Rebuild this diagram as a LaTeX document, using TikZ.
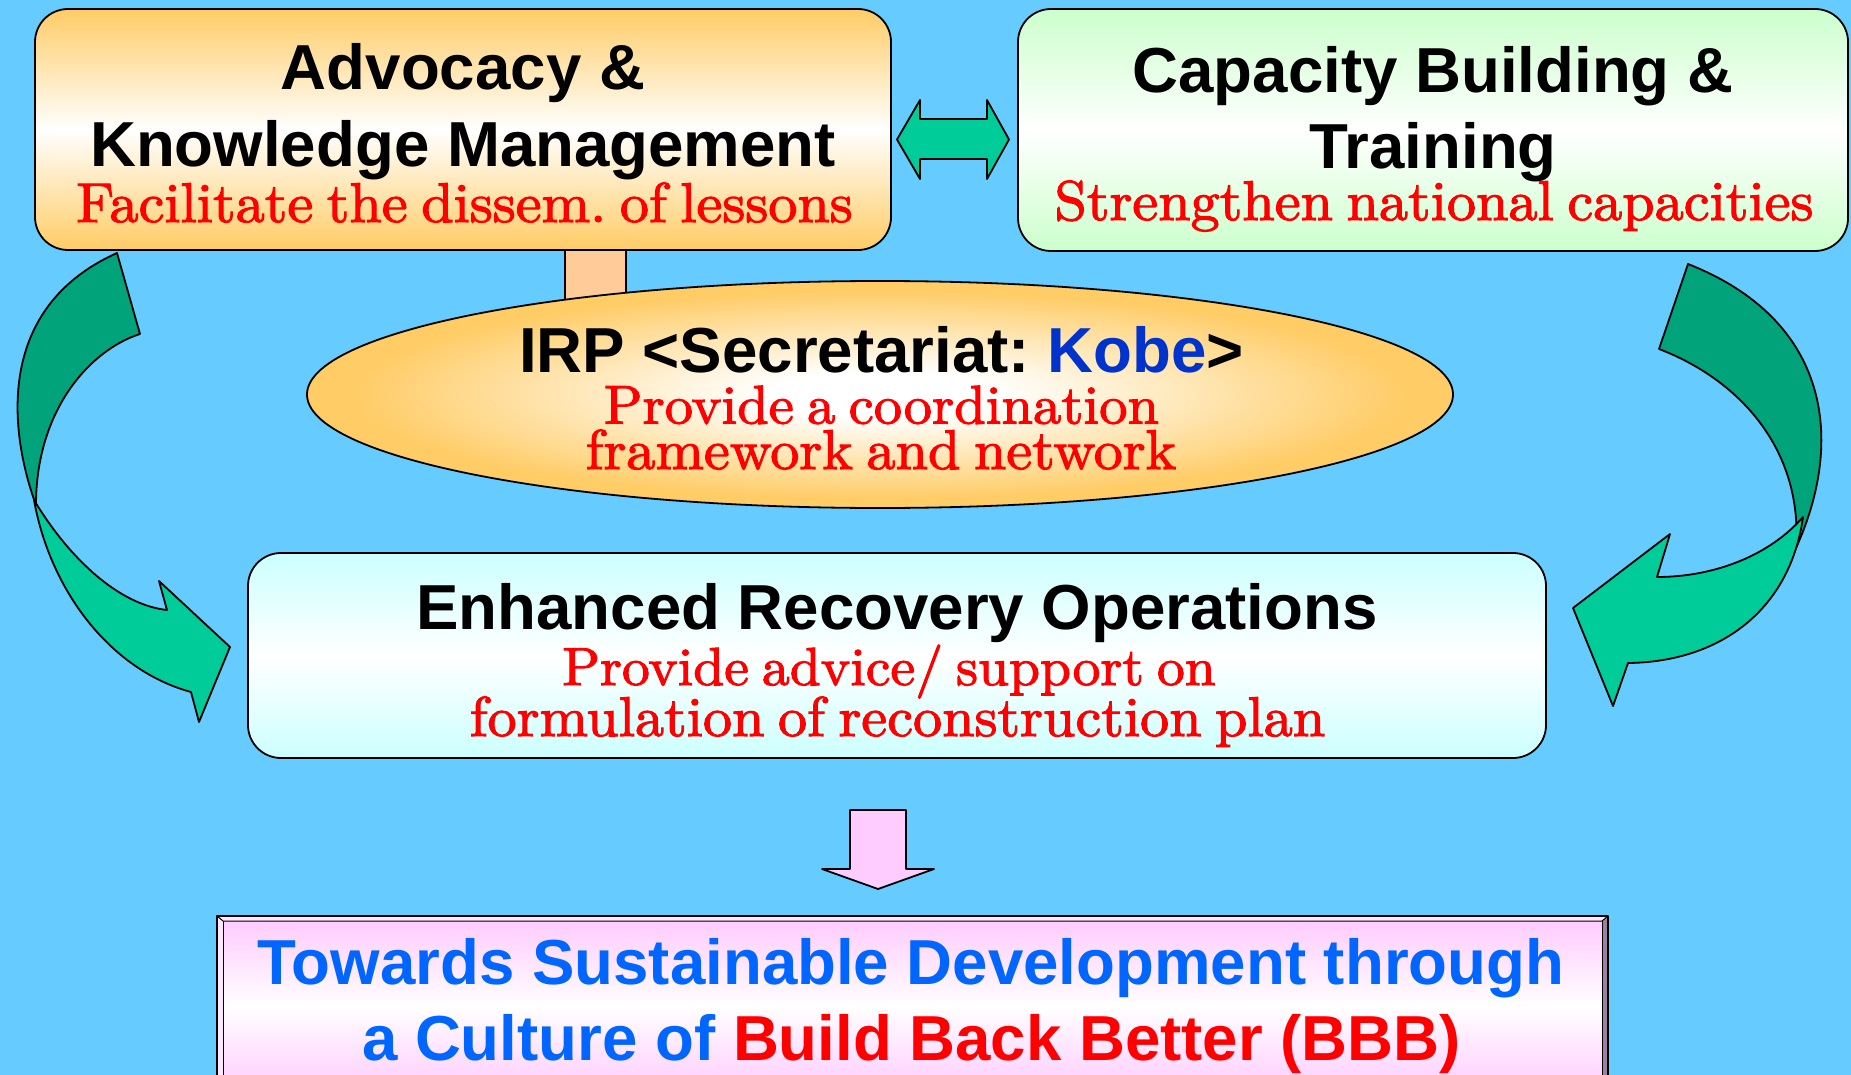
\documentclass[tikz,border=0pt]{standalone}
\usepackage{fontspec}
\usetikzlibrary{shapes.geometric}
\newfontfamily\hsans{Liberation Sans}
\newfontfamily\lmten{lmroman10-regular}[Extension=.otf,FakeBold=2,FakeStretch=1.04,WordSpace=0.7]
\definecolor{bg}{HTML}{66CCFF}
\definecolor{orng}{HTML}{FFCC66}
\definecolor{grn}{HTML}{CCFFCC}
\definecolor{cyn}{HTML}{CCFFFF}
\definecolor{peach}{HTML}{FFCC99}
\definecolor{tealc}{HTML}{00CC99}
\definecolor{darkteal}{HTML}{00A37A}
\definecolor{pnk}{HTML}{FFCCFF}
\definecolor{bevlt}{HTML}{FFE6FF}
\definecolor{bevdk}{HTML}{A080A0}
\definecolor{tred}{HTML}{FF0000}
\definecolor{kobe}{HTML}{0033CC}
\definecolor{tblue}{HTML}{0066FF}
\pgfdeclareradialshading{ellsh}{\pgfpoint{0bp}{0bp}}{color(0bp)=(white); color(5bp)=(white); color(23bp)=(orng); color(50bp)=(orng)}
\frenchspacing
\begin{document}
\begin{tikzpicture}[x=1pt,y=-1pt,
  outl/.style={draw=black,line width=1.8pt,line join=round},
  box/.style={outl,rounded corners=33pt,inner sep=0pt},
  ttl/.style={font=\hsans\bfseries\fontsize{63.6pt}{70pt}\selectfont,anchor=base,inner sep=0pt},
  sub/.style={font=\lmten\fontsize{56pt}{60pt}\selectfont,text=tred,anchor=base,inner sep=0pt}]
\useasboundingbox (0,0) rectangle (1851,1075);
\fill[bg] (0,0) rectangle (1851,1075);
\begin{scope}
\clip (0,0) rectangle (1851,1075);
% connector bar
\node[outl,fill=peach,minimum width=61pt,minimum height=60pt,inner sep=0pt] (bar) at (595.5,275) {};
% top boxes
\node[box,minimum width=856pt,minimum height=241pt,top color=orng,bottom color=orng,middle color=white] (adv) at (463,129.5) {};
\node[box,minimum width=830pt,minimum height=242pt,top color=grn,bottom color=grn,middle color=white] (cap) at (1433,130) {};
% double arrow
\draw[outl,fill=tealc] (897,139.5) -- (920,100) -- (920,119) -- (987,119) -- (987,100) -- (1009,139.5) -- (987,179) -- (987,159) -- (920,159) -- (920,179) -- cycle;
% ellipse
\node[outl,ellipse,shade,shading=ellsh,minimum width=1146pt,minimum height=227pt,inner sep=0pt] (irp) at (880,394.5) {};
% left curved arrow
\draw[outl,fill=darkteal] (117,253) -- (140,334) .. controls (90,350) and (36,410) .. (36,505) .. controls (12,440) and (-10,310) .. (117,253) -- cycle;
\draw[outl,fill=tealc] (34,500) .. controls (70,560) and (120,605) .. (167,610) -- (159,581) -- (230,647) -- (199,722) -- (191,692) .. controls (110,670) and (50,590) .. (34,500) -- cycle;
% right curved arrow
\draw[outl,fill=darkteal] (1688,264) -- (1659,349) .. controls (1740,380) and (1803,450) .. (1796,548) .. controls (1845,440) and (1830,320) .. (1688,264) -- cycle;
\draw[outl,fill=tealc] (1803,517) .. controls (1770,555) and (1715,577) .. (1657,577) -- (1670,534) -- (1573,608) -- (1613,706) -- (1628,663) .. controls (1720,662) and (1790,610) .. (1803,517) -- cycle;
% enhanced box
\node[box,minimum width=1298pt,minimum height=205pt,top color=cyn,bottom color=cyn,middle color=white] (enh) at (897,655.5) {};
% pink arrow
\draw[outl,fill=pnk] (850,810) -- (906,810) -- (906,869) -- (934,869) -- (878,889) -- (822,869) -- (850,869) -- cycle;
% goal box
\node[inner sep=0pt,minimum width=1379pt,minimum height=170pt,top color=pnk,bottom color=pnk,middle color=white] (goal) at (912.5,1006) {};
\fill[bevlt] (217,916) -- (1608,916) -- (1602,921) -- (223,921) -- cycle;
\fill[bevlt] (217,916) -- (223,921) -- (223,1095) -- (217,1095) -- cycle;
\fill[bevdk] (1608,916) -- (1608,1095) -- (1602,1095) -- (1602,921) -- cycle;
\draw[line width=1pt] (217,916) -- (223,921) -- (1602,921) -- (1608,916);
\draw[line width=1pt] (223,921) -- (223,1095);
\draw[line width=1pt] (1602,921) -- (1602,1095);
\draw[outl] (217,1095) -- (217,916) -- (1608,916) -- (1608,1095);
\end{scope}
% texts
\node[ttl] (t1) at (463,90) {Advocacy \&};
\node[ttl] (t2) at (463,167) {Knowledge Management};
\node[sub] (s1) at (464.5,222) {Facilitate the dissem. of lessons};
\node[ttl] (t3) at (1433,93) {Capacity Building \&};
\node[ttl] (t4) at (1433,169) {Training};
\node[sub] (s2) at (1434,220) {Strengthen national capacities};
\node[ttl] (t5) at (881.5,372) {IRP <Secretariat: \textcolor{kobe}{Kobe}>};
\node[sub,font=\lmten\fontsize{54.5pt}{60pt}\selectfont] (s3) at (881.5,423.5) {Provide a coordination};
\node[sub] (s4) at (881,469) {framework and network};
\node[ttl] (t6) at (897,629) {Enhanced Recovery Operations};
\node[sub,font=\lmten\fontsize{53.6pt}{60pt}\selectfont] (s5) at (889,685) {Provide advice/ support on};
\node[sub] (s6) at (897.5,736) {formulation of reconstruction plan};
\node[ttl,text=tblue] (t7) at (911,984) {Towards Sustainable Development through};
\node[ttl,text=tblue] (t8) at (911.5,1060.5) {a Culture of \textcolor{tred}{Build Back Better (BBB)}};
\end{tikzpicture}
\end{document}
